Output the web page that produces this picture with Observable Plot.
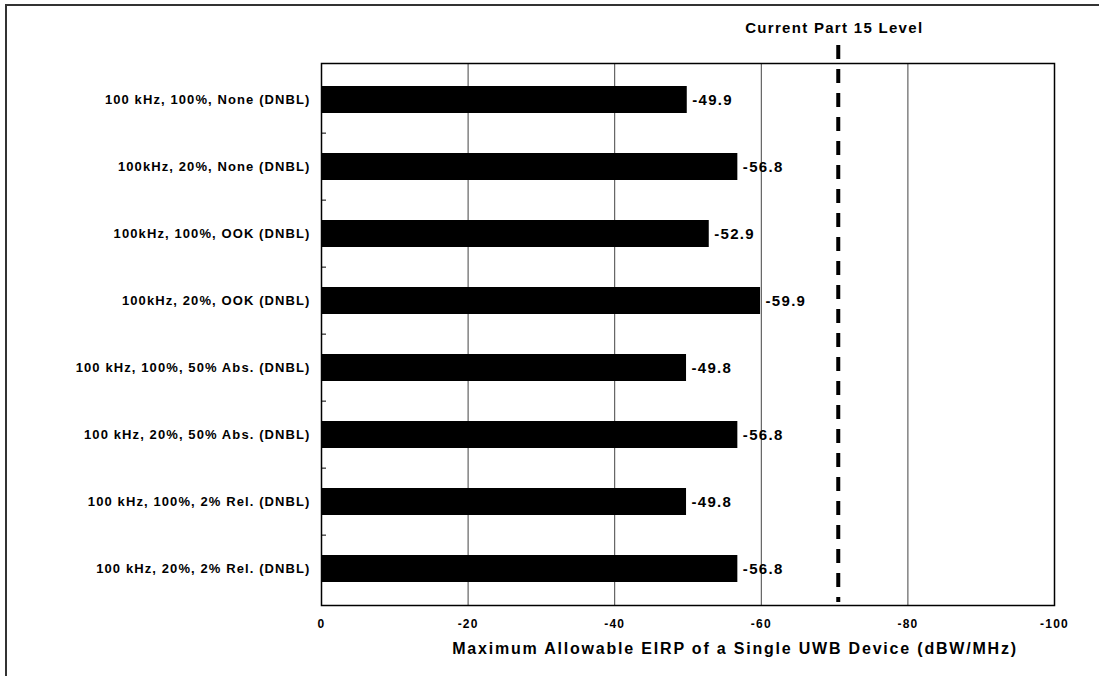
<!DOCTYPE html>
<html>
<head>
<meta charset="utf-8">
<script src="https://cdn.jsdelivr.net/npm/d3@7"></script>
<script src="https://cdn.jsdelivr.net/npm/@observablehq/plot@0.6"></script>
<style>
  html, body { margin: 0; padding: 0; background: #fff; }
  #wrap { position: relative; width: 1099px; height: 676px; overflow: hidden; }
  #border { position: absolute; left: 5px; top: 4px; width: 2000px; height: 2000px;
            border-left: 2px solid #333; border-top: 2px solid #333; }
  #chart { position: absolute; left: 0; top: 0; }
  g[aria-label="y-axis tick label"] text { letter-spacing: 1.1px; }
  g[aria-label="x-axis tick label"] text { letter-spacing: 1.2px; }
</style>
</head>
<body>
<div id="wrap"><div id="border"></div><div id="chart"></div></div>
<script>
const categories = [
  "100 kHz, 100%, None (DNBL)",
  "100kHz, 20%, None (DNBL)",
  "100kHz, 100%, OOK (DNBL)",
  "100kHz, 20%, OOK (DNBL)",
  "100 kHz, 100%, 50% Abs. (DNBL)",
  "100 kHz, 20%, 50% Abs. (DNBL)",
  "100 kHz, 100%, 2% Rel. (DNBL)",
  "100 kHz, 20%, 2% Rel. (DNBL)"
];
const values = [-49.9, -56.8, -52.9, -59.9, -49.8, -56.8, -49.8, -56.8];
const xTicks = [0, -20, -40, -60, -80, -100];
const part15Level = -70.5;
const part15Label = "Current Part 15 Level";
const xLabel = "Maximum Allowable EIRP of a Single UWB Device (dBW/MHz)";

const data = categories.map((c, i) => ({label: c, value: values[i]}));

const W = 1099, H = 676, mt = 63, mb = 71, ml = 321, mr = 45;
const step = (H - mt - mb) / categories.length;
const font = "'Liberation Sans', Arial, sans-serif";

const chart = Plot.plot({
  width: W, height: H,
  marginLeft: ml, marginRight: mr, marginTop: mt, marginBottom: mb,
  style: {fontFamily: font, fontWeight: "bold", background: "transparent", overflow: "visible"},
  x: {domain: [0, -100], ticks: xTicks},
  y: {domain: categories, paddingInner: 0.59, paddingOuter: 0.295},
  marks: [
    Plot.gridX(xTicks.slice(1, -1), {stroke: "#444", strokeOpacity: 1, strokeWidth: 1}),
    Plot.barX(data, {x: "value", y: "label", fill: "black"}),
    Plot.ruleY(categories.slice(1), {y: d => d, dy: -step / 2, insetRight: (W - ml - mr) - 5, stroke: "#000"}),
    Plot.frame({stroke: "#000", strokeWidth: 1.5}),
    Plot.text(data, {x: "value", y: "label", text: d => d.value.toFixed(1), textAnchor: "start", dx: 5,
      fontSize: 15, fontWeight: "bold", fill: "#000"}),
    Plot.ruleX([part15Level], {x: d => d, stroke: "#000", strokeWidth: 4, strokeDasharray: "14,10",
      insetTop: -18, insetBottom: 3}),
    Plot.text([part15Label], {x: () => part15Level, frameAnchor: "top", text: d => d, dy: -41, dx: -4,
      fontSize: 15, fontWeight: "bold", fill: "#000"}),
    Plot.axisX({ticks: xTicks, tickSize: 0, tickPadding: 14, fontSize: 12, fontWeight: "bold",
      tickFormat: d => String(d), label: null}),
    Plot.axisY({tickSize: 0, tickPadding: 11, fontSize: 13, fontWeight: "bold", label: null}),
    Plot.text([xLabel], {frameAnchor: "bottom", text: d => d, dy: 48, dx: 47,
      fontSize: 16, fontWeight: "bold", fill: "#000"})
  ]
});
// letter spacing for the three text marks (values, part-15 label, x label), in mark order
const spacings = ["1.3px", "1.3px", "1.8px"];
d3.select(chart).selectAll('g[aria-label="text"]').each(function(_, i) {
  d3.select(this).selectAll("text").style("letter-spacing", spacings[i]);
});
document.getElementById("chart").appendChild(chart);
</script>
</body>
</html>
